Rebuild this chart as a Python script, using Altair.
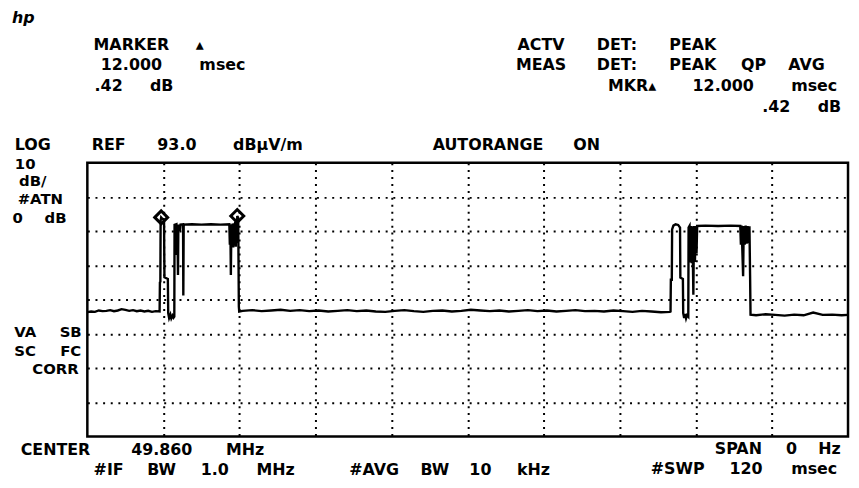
import altair as alt
import pandas as pd

# ---------------- data ----------------
# sweep time (ms) and level (dBuV/m) of the trace
trace_ms = [
    0.0, 0.6, 1.2, 1.8, 2.4, 3.0, 3.6, 4.2, 4.8, 5.4, 6.0, 6.6, 7.2, 7.8, 8.4, 9.0, 9.6, 10.2, 10.8, 11.4,
    11.45, 11.52, 11.56, 11.65, 11.80, 12.10, 12.16, 12.70, 12.76, 12.90, 13.10, 13.25, 13.45, 13.60, 13.72,
    13.76, 14.05, 14.12, 14.20, 14.30, 14.36, 14.60, 14.70, 15.10, 15.14, 15.20, 16.5, 18.0, 19.5, 21.0,
    22.40, 22.48, 22.56, 22.64, 22.72, 22.82, 22.92, 23.02, 23.12, 23.22, 23.32, 23.42, 23.52, 23.60, 23.65,
    23.80, 23.90, 23.96,
    24.5, 26.0, 27.5, 29.0, 30.5, 32.0, 33.5, 35.0, 36.5, 38.0, 39.5, 41.0, 42.5, 44.0, 45.5, 47.0, 48.5,
    50.0, 51.5, 53.0, 54.5, 56.0, 57.5, 59.0, 60.5, 62.0, 63.5, 65.0, 66.5, 68.0, 69.5, 71.0, 72.5, 74.0,
    75.5, 77.0, 78.5, 80.0, 81.5, 83.0, 84.5, 86.0, 87.5, 89.0, 90.5, 91.9,
    92.00, 92.05, 92.20, 92.25, 92.45, 92.80, 93.20, 93.50, 93.55, 93.95, 94.00, 94.15, 94.30, 94.45, 94.60,
    94.80, 94.85, 95.00, 95.10, 95.20, 95.35, 95.45, 95.60, 95.70, 95.85, 95.95, 96.1, 96.2, 97.5, 99.5,
    101.5, 103.00, 103.10, 103.20, 103.30, 103.45, 103.55, 103.70, 103.85, 104.00, 104.15, 104.30, 104.45,
    104.55, 104.62,
    105.5, 107.0, 108.5, 110.0, 111.5, 113.0, 114.5, 116.0, 117.5, 119.0, 120.0,
]
trace_db = [
    49.3, 49.5, 49.4, 49.8, 49.6, 49.7, 49.9, 49.6, 49.8, 50.2, 50.0, 49.7, 49.9, 49.6, 49.8, 49.5, 49.7, 49.4, 49.6, 49.5,
    58.0, 58.2, 76.0, 77.0, 76.7, 76.4, 59.5, 59.0, 49.0, 47.6, 48.6, 47.5, 48.3, 47.7, 48.0,
    74.8, 75.0, 66.0, 74.9, 60.2, 74.9, 73.0, 74.9, 75.0, 54.2, 74.9, 75.0, 74.9, 75.0, 74.9,
    75.0, 69.0, 75.0, 60.2, 74.5, 68.5, 75.2, 68.2, 75.3, 68.8, 75.8, 68.4, 76.6, 69.5, 77.42,
    76.9, 51.0, 49.5,
    49.7, 49.9, 49.6, 49.8, 50.0, 49.7, 49.9, 49.6, 49.8, 49.5, 49.7, 49.9, 49.6, 49.8, 49.5, 49.4, 49.7,
    49.9, 49.6, 49.4, 49.7, 49.8, 49.5, 49.7, 50.0, 49.8, 49.6, 49.8, 49.5, 49.7, 49.9, 49.6, 49.8, 49.5,
    49.7, 49.9, 49.6, 49.7, 49.5, 49.8, 49.6, 49.4, 49.7, 49.5, 49.3, 49.4,
    49.5, 58.8, 58.8, 73.5, 74.6, 75.0, 74.8, 74.0, 59.4, 59.0, 49.0, 47.6, 48.8, 47.5, 48.4,
    48.0, 74.0, 74.5, 63.8, 74.5, 63.6, 74.4, 54.4, 74.5, 64.0, 74.5, 66.5, 74.5, 74.6, 74.5,
    74.6, 74.5, 69.0, 74.6, 69.2, 59.8, 74.5, 69.0, 74.6, 69.3, 74.5, 69.5, 74.4,
    60.0, 48.6,
    48.4, 48.7, 48.5, 48.3, 48.6, 48.4, 49.2, 48.5, 48.6, 48.4, 48.5,
]

marker_ms = [11.65, 23.65]
marker_db = [77.0, 77.42]

grid_ms = [12, 24, 36, 48, 60, 72, 84, 96, 108]
grid_db = [83, 73, 63, 53, 43, 33, 23]

# screen annotations: text, starting character column, baseline row (page px)
label_text = [
    "MARKER \u25b4", "12.000 msec", ".42 dB",
    "ACTV DET: PEAK", "MEAS DET: PEAK QP AVG", "MKR\u25b4 12.000 msec", ".42 dB",
    "LOG", "REF 93.0 dB\u00b5V/m", "AUTORANGE ON",
    "10", "dB/", "#ATN", "0 dB",
    "VA SB", "SC FC", "CORR",
    "CENTER 49.860 MHz", "#IF BW 1.0 MHz", "#AVG BW 10 kHz",
    "SPAN 0 Hz", "#SWP 120 msec",
]
label_col = [5, 5, 5, 33, 33, 39, 49, 0, 5, 27, 0, 0, 0, 0,
             0, 0, 1, 0, 5, 22, 46, 42]
label_y = [48, 69, 90, 48, 69, 90, 111, 149, 149, 149, 168, 186, 204, 223,
           338, 357, 375, 457, 477, 477, 456, 476]
label_stacked = [False] * 10 + [True] * 7 + [False] * 5

# ---------------- layout ----------------
W, H = 767, 276          # graticule size
OX, OY = 88, 162         # graticule origin on the page
COL0, ADV = 10, 15.3     # character grid of the analyzer display

trace = pd.DataFrame({"ms": trace_ms, "db": trace_db, "i": range(len(trace_ms))})
markers = pd.DataFrame({"ms": marker_ms, "db": marker_db})

rows = []
for txt, c0, by, st in zip(label_text, label_col, label_y, label_stacked):
    col = c0
    for w in txt.split(" "):
        if w:
            cx = COL0 + (col + len(w) / 2) * ADV
            rows.append({"w": w, "px": cx - OX, "py": by - OY, "fs": 15 if st else 16})
        col += len(w) + 1
words = pd.DataFrame(rows)

xs = alt.Scale(domain=[0, 120], nice=False, zero=False)
ys = alt.Scale(domain=[13, 93], nice=False, zero=False)

x_axis = alt.Axis(values=grid_ms, grid=True, gridColor="black", gridWidth=2,
                  gridDash=[2, 5], labels=False, ticks=False, domain=False, title=None)
y_axis = alt.Axis(values=grid_db, grid=True, gridColor="black", gridWidth=2,
                  gridDash=[2, 5.7], labels=False, ticks=False, domain=False, title=None)

line = alt.Chart(trace).mark_line(color="black", strokeWidth=2.4, strokeJoin="miter").encode(
    x=alt.X("ms:Q", scale=xs, axis=x_axis),
    y=alt.Y("db:Q", scale=ys, axis=y_axis),
    order="i:Q",
)

diam = alt.Chart(markers).mark_point(shape="diamond", size=170, filled=False,
                                      color="black", strokeWidth=3, opacity=1).encode(
    x=alt.X("ms:Q", scale=xs, axis=None),
    y=alt.Y("db:Q", scale=ys, axis=None),
)

text = alt.Chart(words).mark_text(font="DejaVu Sans", fontWeight="bold",
                                  align="center", baseline="alphabetic", color="black").encode(
    x=alt.X("px:Q", scale=None, axis=None),
    y=alt.Y("py:Q", scale=None, axis=None),
    size=alt.Size("fs:Q", scale=None, legend=None),
    text="w:N",
)

logo = alt.Chart(pd.DataFrame({"t": ["hp"]})).mark_text(
    font="DejaVu Sans", fontWeight="bold", fontStyle="italic", fontSize=16,
    align="left", baseline="alphabetic", color="black").encode(
    x=alt.value(12 - OX), y=alt.value(21 - OY), text="t:N")

chart = alt.layer(line, diam, text, logo).resolve_scale(
    x="independent", y="independent"
).properties(
    width=W, height=H,
    autosize=alt.AutoSizeParams(type="none"),
    padding={"left": OX - 8, "top": OY - 8, "right": 3, "bottom": 40},
    background="white",
).configure_view(stroke="black", strokeWidth=2.5)

chart.save("out.html", embed_options={"renderer": "svg", "actions": False})
